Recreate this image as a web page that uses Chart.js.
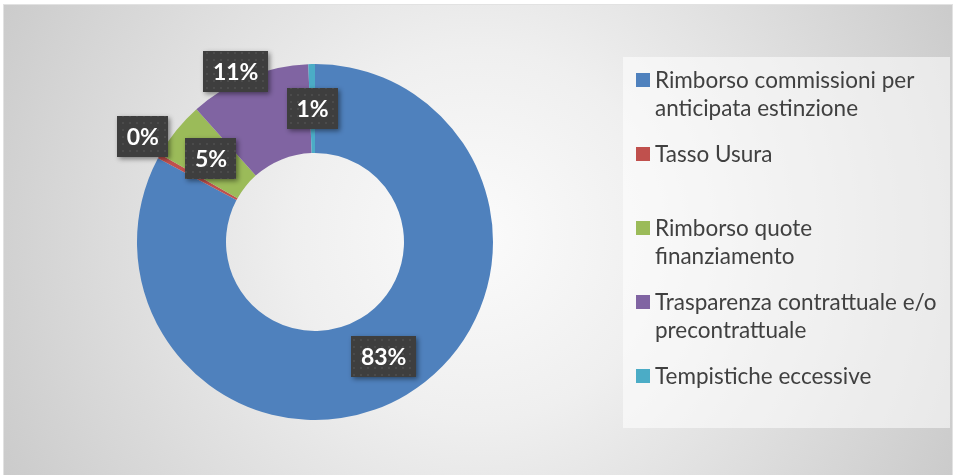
<!DOCTYPE html>
<html>
<head>
<meta charset="utf-8">
<script src="https://cdn.jsdelivr.net/npm/chart.js@4/dist/chart.umd.min.js"></script>
<style>
  html, body { margin: 0; padding: 0; background: #fff; }
  #chart { display: block; }
</style>
</head>
<body>
<canvas id="chart" width="953" height="475"></canvas>
<script>
// Categories (already split the way the legend wraps them)
const categories = [
  ['Rimborso commissioni per', 'anticipata estinzione'],
  ['Tasso Usura'],
  ['Rimborso quote', 'finanziamento'],
  ['Trasparenza contrattuale e/o', 'precontrattuale'],
  ['Tempistiche eccessive']
];
// share of complaints, in percent
const shares = [82.8, 0.4, 5.2, 11.0, 0.6];
const colors = ['#4f81bd', '#c0504d', '#9bbb59', '#8064a2', '#4bacc6'];

// label placement tweaks (Excel moved two labels out of the ring)
const labelRadius = [null, 1.135, null, 1.056, null];
const labelShift = [0, 2.7, 0, -3, 0];

// dotted dark fill for the data label boxes
function makePattern(ctx) {
  const c = document.createElement('canvas');
  c.width = 7; c.height = 7;
  const p = c.getContext('2d');
  p.fillStyle = '#3e3e3e';
  p.fillRect(0, 0, 7, 7);
  p.fillStyle = '#4b4b4b';
  p.fillRect(3, 3, 2, 2);
  return ctx.createPattern(c, 'repeat');
}

const backgroundPlugin = {
  id: 'bg',
  beforeDraw(chart) {
    const ctx = chart.ctx;
    ctx.save();
    ctx.fillStyle = '#ffffff';
    ctx.fillRect(0, 0, chart.width, chart.height);
    const g = ctx.createRadialGradient(478, 235, 0, 478, 235, 530);
    g.addColorStop(0, '#fbfbfb');
    g.addColorStop(0.35, '#efefef');
    g.addColorStop(1, '#cbcbcb');
    ctx.fillStyle = g;
    ctx.fillRect(4, 5, chart.width - 5, chart.height - 5);
    ctx.strokeStyle = '#e2e2e2';
    ctx.lineWidth = 1;
    ctx.strokeRect(3.5, 4.5, chart.width - 4, chart.height);
    ctx.restore();
  }
};

const legendPlugin = {
  id: 'boxLegend',
  afterDraw(chart) {
    const ctx = chart.ctx;
    ctx.save();
    ctx.fillStyle = 'rgba(255,255,255,0.55)';
    ctx.fillRect(623, 57, 327, 371);
    ctx.font = '22.5px Lato';
    ctx.textBaseline = 'middle';
    chart.data.labels.forEach((lines, i) => {
      const y = 80 + i * 74;
      ctx.fillStyle = chart.data.datasets[0].backgroundColor[i];
      ctx.fillRect(636, y - 7, 14, 14);
      ctx.fillStyle = '#404040';
      lines.forEach((t, j) => ctx.fillText(t, 655, y + 1 + j * 28));
    });
    ctx.restore();
  }
};

const dataLabelPlugin = {
  id: 'boxLabels',
  afterDatasetsDraw(chart) {
    const ctx = chart.ctx;
    const meta = chart.getDatasetMeta(0);
    const pattern = makePattern(ctx);
    ctx.save();
    ctx.font = 'bold 23px Lato';
    ctx.textAlign = 'center';
    ctx.textBaseline = 'middle';
    meta.data.forEach((arc, i) => {
      const p = arc.getProps(['x', 'y', 'startAngle', 'endAngle', 'innerRadius', 'outerRadius'], true);
      const mid = (p.startAngle + p.endAngle) / 2 + labelShift[i] * Math.PI / 180;
      const r = labelRadius[i] ? p.outerRadius * labelRadius[i] : (p.innerRadius + p.outerRadius) / 2;
      const cx = p.x + Math.cos(mid) * r;
      const cy = p.y + Math.sin(mid) * r;
      const text = Math.round(shares[i]) + '%';
      const w = ctx.measureText(text).width + 19;
      const h = 41;
      ctx.shadowColor = 'rgba(0,0,0,0.45)';
      ctx.shadowBlur = 5;
      ctx.shadowOffsetX = 2;
      ctx.shadowOffsetY = 2;
      ctx.fillStyle = pattern;
      ctx.fillRect(Math.round(cx - w / 2), Math.round(cy - h / 2), Math.round(w), h);
      ctx.shadowColor = 'transparent';
      ctx.fillStyle = '#ffffff';
      ctx.fillText(text, cx, cy + 1);
    });
    ctx.restore();
  }
};

new Chart(document.getElementById('chart'), {
  type: 'doughnut',
  data: {
    labels: categories,
    datasets: [{
      data: shares,
      backgroundColor: colors,
      borderWidth: 0
    }]
  },
  options: {
    responsive: false,
    animation: false,
    cutout: '50%',
    layout: { padding: { left: 137, right: 460, top: 64, bottom: 55 } },
    plugins: {
      legend: { display: false },
      tooltip: { enabled: false }
    }
  },
  plugins: [backgroundPlugin, dataLabelPlugin, legendPlugin]
});
</script>
</body>
</html>
